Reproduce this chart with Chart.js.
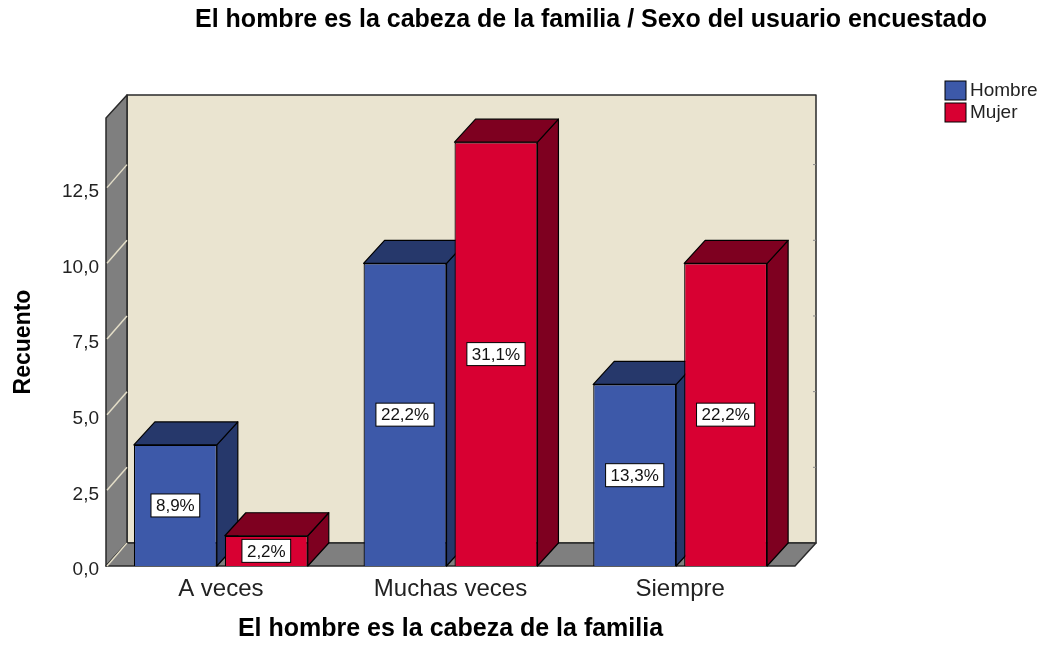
<!DOCTYPE html>
<html>
<head>
<meta charset="utf-8">
<script src="https://cdn.jsdelivr.net/npm/chart.js@4.4.1/dist/chart.umd.min.js"></script>
<style>
  html, body { margin: 0; padding: 0; background: #fff; }
  #wrap { width: 1054px; height: 648px; }
</style>
</head>
<body>
<div id="wrap"><canvas id="chart" width="1054" height="648"></canvas></div>
<script>
// --- data ---
const categories = ['A veces', 'Muchas veces', 'Siempre'];
const hombre = [4, 10, 6];
const mujer = [1, 14, 10];
const hombrePct = ['8,9%', '22,2%', '13,3%'];
const mujerPct = ['2,2%', '31,1%', '22,2%'];
const yTicks = [0, 2.5, 5, 7.5, 10, 12.5];
const yMax = 14.8;

const FONT = "'Liberation Sans', Arial, sans-serif";
const DX = 21, DY = 23; // depth of the 3D box
const colors = {
    hombre: { front: '#3D59A9', dark: '#26386B' },
    mujer: { front: '#D80032', dark: '#7E0020' },
    wall: '#EAE4D0',
    grey: '#7F7F7F',
    edge: '#2A2A2A'
};

function poly(ctx, pts, fill, stroke) {
    ctx.beginPath();
    ctx.moveTo(pts[0][0], pts[0][1]);
    for (let i = 1; i < pts.length; i++) ctx.lineTo(pts[i][0], pts[i][1]);
    ctx.closePath();
    if (fill) { ctx.fillStyle = fill; ctx.fill(); }
    if (stroke) { ctx.strokeStyle = stroke; ctx.stroke(); }
}

// --- walls, floor and the side/top faces of the bars ---
const box3d = {
    id: 'box3d',
    beforeDatasetsDraw(chart) {
        const { ctx, chartArea: a, scales: { y } } = chart;
        ctx.save();
        ctx.lineJoin = 'round';

        // back wall
        ctx.lineWidth = 1.5;
        poly(ctx, [[a.left + DX, a.top - DY], [a.right + DX, a.top - DY],
                   [a.right + DX, a.bottom - DY], [a.left + DX, a.bottom - DY]], colors.wall, colors.edge);
        // small marks on the right edge of the back wall
        ctx.strokeStyle = '#8a8a8a';
        ctx.lineWidth = 1;
        yTicks.forEach(v => {
            const py = y.getPixelForValue(v) - DY;
            ctx.beginPath();
            ctx.moveTo(a.right + DX - 3, py);
            ctx.lineTo(a.right + DX, py);
            ctx.stroke();
        });

        // side wall and floor
        ctx.lineWidth = 1.5;
        poly(ctx, [[a.left, a.top], [a.left + DX, a.top - DY],
                   [a.left + DX, a.bottom - DY], [a.left, a.bottom]], colors.grey, colors.edge);
        poly(ctx, [[a.left, a.bottom], [a.left + DX, a.bottom - DY],
                   [a.right + DX, a.bottom - DY], [a.right, a.bottom]], colors.grey, colors.edge);

        // grid lines on the side wall
        ctx.strokeStyle = '#E4DEC8';
        ctx.lineWidth = 1.5;
        yTicks.forEach(v => {
            const py = y.getPixelForValue(v);
            ctx.beginPath();
            ctx.moveTo(a.left + 1, py);
            ctx.lineTo(a.left + DX, py - DY);
            ctx.stroke();
        });

        // side and top faces, left to right so nearer faces cover farther ones
        const dark = [colors.hombre.dark, colors.mujer.dark];
        ctx.lineWidth = 1.2;
        categories.forEach((c, i) => {
            chart.data.datasets.forEach((ds, d) => {
                const bar = chart.getDatasetMeta(d).data[i];
                const p = bar.getProps(['x', 'y', 'base', 'width'], true);
                const l = p.x - p.width / 2, r = p.x + p.width / 2;
                poly(ctx, [[r, p.y], [r + DX, p.y - DY], [r + DX, p.base - DY], [r, p.base]], dark[d], '#000');
                poly(ctx, [[l, p.y], [l + DX, p.y - DY], [r + DX, p.y - DY], [r, p.y]], dark[d], '#000');
            });
        });
        ctx.restore();
    },

    // percentage boxes in the middle of each bar
    afterDatasetsDraw(chart) {
        const { ctx } = chart;
        const pcts = [hombrePct, mujerPct];
        ctx.save();
        ctx.font = '17px ' + FONT;
        ctx.textAlign = 'center';
        ctx.textBaseline = 'middle';
        chart.data.datasets.forEach((ds, d) => {
            chart.getDatasetMeta(d).data.forEach((bar, i) => {
                const p = bar.getProps(['x', 'y', 'base'], true);
                const cy = (p.y + p.base) / 2;
                const txt = pcts[d][i];
                const w = ctx.measureText(txt).width + 10, h = 23;
                ctx.fillStyle = '#fff';
                ctx.fillRect(p.x - w / 2, cy - h / 2, w, h);
                ctx.strokeStyle = '#000';
                ctx.lineWidth = 1;
                ctx.strokeRect(p.x - w / 2, cy - h / 2, w, h);
                ctx.fillStyle = '#111';
                ctx.fillText(txt, p.x, cy + 1);
            });
        });
        ctx.restore();
    },

    // title and legend
    afterDraw(chart) {
        const { ctx } = chart;
        ctx.save();
        ctx.fillStyle = '#000';
        ctx.font = 'bold 25px ' + FONT;
        ctx.textAlign = 'center';
        ctx.textBaseline = 'middle';
        ctx.fillText('El hombre es la cabeza de la familia / Sexo del usuario encuestado', 591, 20);

        ctx.font = '19px ' + FONT;
        ctx.textAlign = 'left';
        const fills = [colors.hombre.front, colors.mujer.front];
        chart.data.datasets.forEach((ds, d) => {
            const top = 81 + d * 22;
            ctx.fillStyle = fills[d];
            ctx.fillRect(945, top, 21, 19);
            ctx.strokeStyle = '#000';
            ctx.lineWidth = 1;
            ctx.strokeRect(945, top, 21, 19);
            ctx.fillStyle = '#222';
            ctx.fillText(ds.label, 970, top + 10);
        });
        ctx.restore();
    }
};

new Chart(document.getElementById('chart'), {
    type: 'bar',
    data: {
        labels: categories,
        datasets: [
            { label: 'Hombre', data: hombre, backgroundColor: colors.hombre.front, borderColor: '#000', borderWidth: 1.2 },
            { label: 'Mujer', data: mujer, backgroundColor: colors.mujer.front, borderColor: '#000', borderWidth: 1.2 }
        ]
    },
    options: {
        responsive: false,
        animation: false,
        events: [],
        categoryPercentage: 0.792,
        barPercentage: 0.912,
        layout: { padding: { top: 118, right: 259, bottom: 0, left: 0 } },
        plugins: {
            legend: { display: false },
            title: { display: false },
            tooltip: { enabled: false }
        },
        scales: {
            x: {
                grid: { display: false, drawTicks: false },
                border: { display: false },
                ticks: { color: '#222', font: { family: FONT, size: 24 }, padding: 9 },
                title: {
                    display: true,
                    text: 'El hombre es la cabeza de la familia',
                    color: '#000',
                    font: { family: FONT, size: 25, weight: 'bold' },
                    padding: { top: 0, bottom: 4 }
                },
                afterFit(scale) { scale.height = 82; }
            },
            y: {
                min: 0,
                max: yMax,
                grid: { display: false, drawTicks: false },
                border: { display: false },
                ticks: {
                    stepSize: 2.5,
                    includeBounds: false,
                    color: '#222',
                    padding: 7,
                    labelOffset: 4,
                    font: { family: FONT, size: 19 },
                    callback: v => v.toFixed(1).replace('.', ',')
                },
                afterBuildTicks(scale) { scale.ticks = yTicks.map(v => ({ value: v })); },
                title: {
                    display: true,
                    text: 'Recuento',
                    color: '#000',
                    font: { family: FONT, size: 23, weight: 'bold' },
                    padding: { top: 10, bottom: 0 }
                },
                afterFit(scale) { scale.width = 106; }
            }
        }
    },
    plugins: [box3d]
});
</script>
</body>
</html>
